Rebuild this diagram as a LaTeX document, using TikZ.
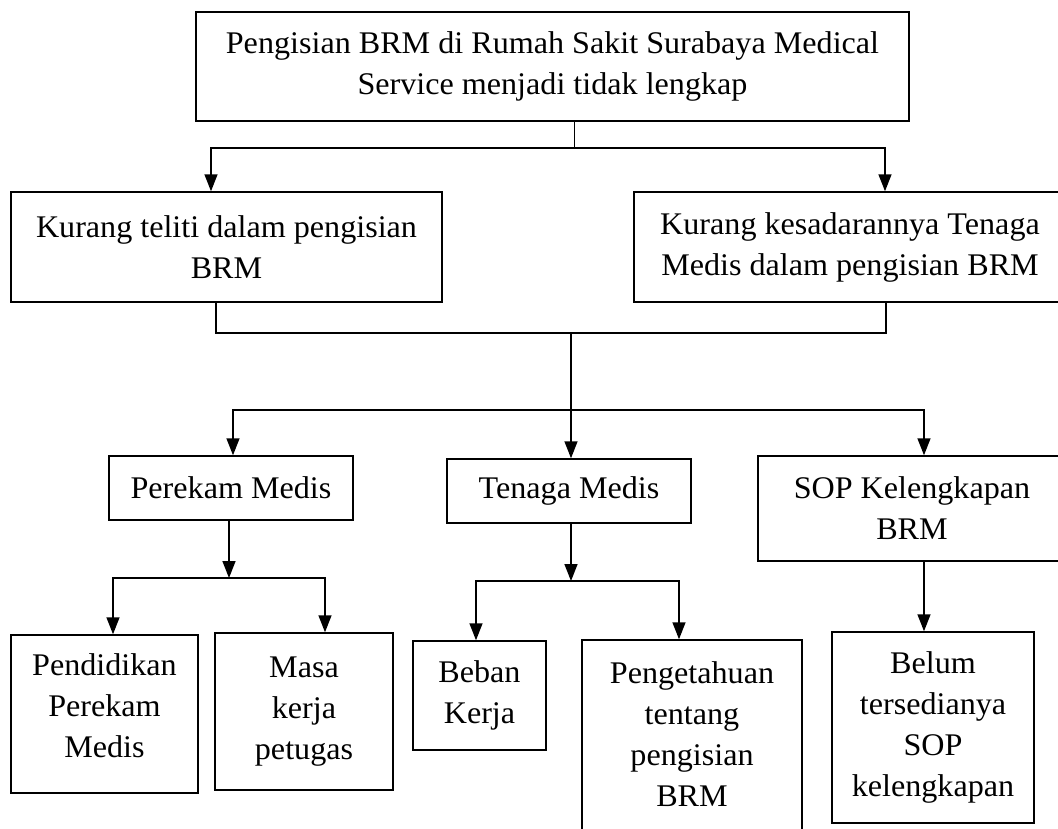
\documentclass[tikz,border=0pt]{standalone}
\usepackage{fontspec}
\setmainfont{Liberation Serif}[FakeStretch=1.02]
\usetikzlibrary{arrows.meta}

\begin{document}
\begin{tikzpicture}[x=1pt,y=-1pt,
	kotak/.style={draw,line width=1.5pt,align=center,inner sep=0pt,font=\fontsize{31.5}{41}\selectfont},
	garis/.style={line width=1.5pt},
	>={Triangle[length=17pt,width=13pt]}]
	%canvas
		\useasboundingbox (0,0) rectangle (1058,828);
		\clip (0,0) rectangle (1058,828);
	%boxes level 1 + 2
		\node[kotak,minimum width=713,minimum height=109] (top) at (552.5,66.5) {Pengisian BRM di Rumah Sakit Surabaya Medical\\Service menjadi tidak lengkap};
		\node[kotak,minimum width=431,minimum height=110] (teliti) at (226.5,247) {Kurang teliti dalam pengisian\\BRM};
		\node[kotak,minimum width=432,minimum height=110] (sadar) at (850,247) {Kurang kesadarannya Tenaga\\Medis dalam pengisian BRM};
	%boxes level 3
		\node[kotak,minimum width=244,minimum height=64] (perekam) at (231,488) {Perekam Medis};
		\node[kotak,minimum width=244,minimum height=64] (tenaga) at (569,491) {Tenaga Medis};
		\node[kotak,minimum width=308,minimum height=105] (sop) at (912,508.5) {SOP Kelengkapan\\BRM};
	%boxes level 4
		\node[kotak,minimum width=187,minimum height=158,text depth=16pt] (didik) at (104.5,714) {Pendidikan\\Perekam\\Medis};
		\node[kotak,minimum width=178,minimum height=157] (masa) at (304,711.5) {Masa\\kerja\\petugas};
		\node[kotak,minimum width=133,minimum height=109] (beban) at (479.5,695.5) {Beban\\Kerja};
		\node[kotak,minimum width=220,minimum height=210,text depth=22pt] (tahu) at (692,745) {Pengetahuan\\tentang\\pengisian\\BRM};
		\node[kotak,minimum width=202,minimum height=191] (belum) at (933,727.5) {Belum\\tersedianya\\SOP\\kelengkapan};
	%top split
		\coordinate (c1) at (574.5,148);
		\draw[garis] ([xshift=22pt]top.south) -- (c1);
		\draw[garis,->] (c1) -| ([xshift=-15.5pt]teliti.north);
		\draw[garis,->] (c1) -| ([xshift=35pt]sadar.north);
	%join of level 2
		\coordinate (c2) at (571,333);
		\coordinate (c3) at (571,410);
		\draw[garis] ([xshift=-10.5pt]teliti.south) |- (c2);
		\draw[garis] ([xshift=36pt]sadar.south) |- (c2);
		\draw[garis] (c2) -- (c3);
		\draw[garis,->] (c3) -| ([xshift=2pt]perekam.north);
		\draw[garis,->] (c3) -- ([xshift=2pt]tenaga.north);
		\draw[garis,->] (c3) -| ([xshift=12pt]sop.north);
	%Perekam Medis split
		\coordinate (c4) at (229,578);
		\draw[garis,->] ([xshift=-2pt]perekam.south) -- (c4);
		\draw[garis,->] (c4) -| ([xshift=8.5pt]didik.north);
		\draw[garis,->] (c4) -| ([xshift=21pt]masa.north);
	%Tenaga Medis split
		\coordinate (c5) at (571,581);
		\draw[garis,->] ([xshift=2pt]tenaga.south) -- (c5);
		\draw[garis,->] (c5) -| ([xshift=-3.5pt]beban.north);
		\draw[garis,->] (c5) -| ([xshift=-13pt]tahu.north);
	%SOP
		\draw[garis,->] ([xshift=12pt]sop.south) -- ([xshift=-9pt]belum.north);
\end{tikzpicture}
\end{document}
